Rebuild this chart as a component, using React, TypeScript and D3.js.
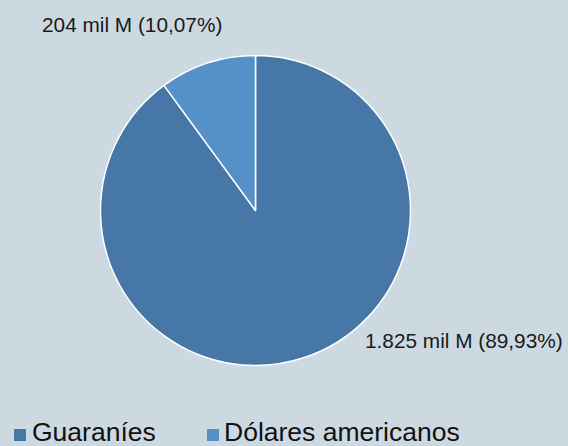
import React from "react";
import * as d3 from "d3";

const categories = ["Guaraníes", "Dólares americanos"];
const values = [1825, 204];
const labels = ["1.825 mil M (89,93%)", "204 mil M (10,07%)"];
const colors = ["#4677a7", "#5591c8"];

export default function App() {
  const W = 568, H = 446;
  const cx = 255.5, cy = 210.5, r = 155;
  const pie = d3.pie<number>().sort(null).value((d) => d);
  const arcs = pie(values);
  const arc = d3.arc<d3.PieArcDatum<number>>().innerRadius(0).outerRadius(r);
  const font = "'Liberation Sans', Arial, sans-serif";
  const labelPos = [
    { x: 365, y: 348, anchor: "start" },
    { x: 42, y: 32, anchor: "start" },
  ];
  const legendX = [14, 207];
  const legendTextX = [32, 224];
  return (
    <svg width={W} height={H} style={{ position: "absolute", left: 0, top: 0 }}>
      <rect width={W} height={H} fill="#cdd9e1" />
      <g transform={`translate(${cx},${cy})`}>
        {arcs.map((a, i) => (
          <path key={i} d={arc(a) || ""} fill={colors[i]} stroke="#ffffff" strokeWidth={1.5} strokeLinejoin="round" />
        ))}
      </g>
      {labels.map((t, i) => (
        <text key={i} x={labelPos[i].x} y={labelPos[i].y} fontFamily={font} fontSize={20.8} fill="#1a1a1a" textAnchor={labelPos[i].anchor as any}>
          {t}
        </text>
      ))}
      {categories.map((c, i) => (
        <g key={c}>
          <rect x={legendX[i]} y={429} width={12} height={12} fill={colors[i]} />
          <text x={legendTextX[i]} y={441} fontFamily={font} fontSize={26.5} fill="#111">
            {c}
          </text>
        </g>
      ))}
    </svg>
  );
}
